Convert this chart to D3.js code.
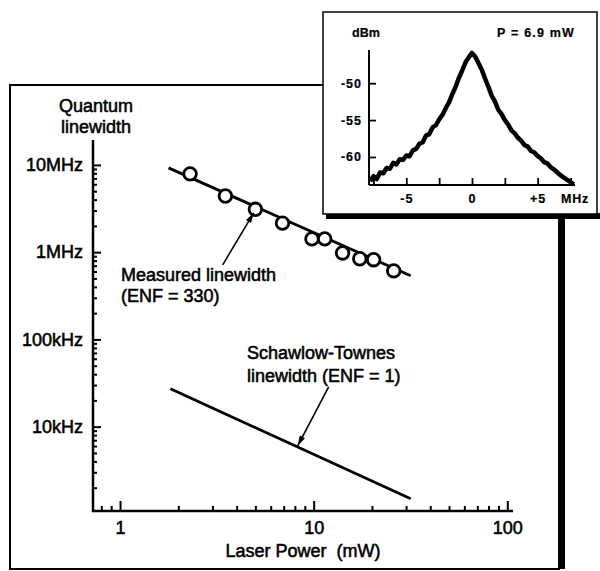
<!DOCTYPE html>
<html>
<head>
<meta charset="utf-8">
<script src="https://d3js.org/d3.v7.min.js"></script>
<style>
  body { margin: 0; background: #fff; }
  text { font-family: "Liberation Sans", Arial, Helvetica, sans-serif; fill: #000; stroke: #000; stroke-width: 0.55px; }
  .inset text { font-weight: bold; stroke-width: 0.2px; }
</style>
</head>
<body>
<div id="chart"></div>
<script>
// SVG container
var svgWidth = 600;
var svgHeight = 571;

// ----------------- Data -----------------
// Measured quantum linewidth (laser power in mW, linewidth in Hz)
var measuredPower = [2.3, 3.5, 5.0, 6.9, 9.8, 11.4, 14.1, 17.3, 20.4, 25.9];
var measuredWidth = [7.9e6, 4.4e6, 3.1e6, 2.15e6, 1.42e6, 1.42e6, 0.98e6, 0.84e6, 0.82e6, 0.61e6];
// Fitted line through measured points (end points)
var fitPower = [1.78, 31.7];
var fitWidth = [9.25e6, 0.536e6];
// Schawlow-Townes linewidth (end points)
var stPower = [1.82, 31.7];
var stWidth = [27.2e3, 1.49e3];

// Main axis ticks
var yMajorTicks = [1e4, 1e5, 1e6, 1e7];
var yTickLabels = ["10kHz", "100kHz", "1MHz", "10MHz"];
var xMajorTicks = [1, 10, 100];
var xTickLabels = ["1", "10", "100"];

// Inset spectrum at P = 6.9 mW
var specFreq = [-7.75,-7.5,-7.25,-7,-6.75,-6.5,-6.25,-6,-5.75,-5.5,-5.25,-5,-4.75,-4.5,-4.25,-4,
  -3.75,-3.5,-3.25,-3,-2.75,-2.5,-2.25,-2,-1.75,-1.5,-1.25,-1,-0.75,-0.5,-0.25,0,
  0.25,0.5,0.75,1,1.25,1.5,1.75,2,2.25,2.5,2.75,3,3.25,3.5,3.75,4,
  4.25,4.5,4.75,5,5.25,5.5,5.75,6,6.25,6.5,6.75,7,7.25,7.5,7.75];
var specPower = [-63.3,-62.6,-63.0,-62.1,-62.2,-61.5,-61.6,-60.8,-61.0,-60.3,-60.4,-59.8,-59.9,-59.1,-58.9,-58.2,
  -58.0,-57.1,-56.9,-56.0,-55.7,-54.9,-54.3,-53.4,-52.6,-51.5,-50.5,-49.3,-48.3,-47.2,-46.5,-45.9,
  -46.4,-47.3,-48.2,-49.4,-50.5,-51.7,-52.5,-53.6,-54.2,-55.0,-55.6,-56.4,-56.8,-57.4,-57.8,-58.4,
  -58.6,-59.2,-59.4,-59.9,-60.2,-60.7,-60.9,-61.4,-61.7,-62.1,-62.5,-62.8,-63.1,-63.4,-63.7];
var insetYTicks = [-60, -55, -50];
var insetYLabels = ["-60", "-55", "-50"];
var insetXMajor = [-5, 0, 5];
var insetXLabels = ["-5", "0", "+5"];
var insetXMinor = [-7.5, -2.5, 2.5, 7.5];

var svg = d3.select("#chart").append("svg")
            .attr("width", svgWidth)
            .attr("height", svgHeight);

// arrow marker
svg.append("defs").append("marker")
   .attr("id", "arrow")
   .attr("viewBox", "0 0 10 6")
   .attr("refX", 10)
   .attr("refY", 3)
   .attr("markerWidth", 11)
   .attr("markerHeight", 6)
   .attr("markerUnits", "userSpaceOnUse")
   .attr("orient", "auto")
   .append("path")
   .attr("d", "M0,0 L10,3 L0,6 Z")
   .attr("fill", "#000");

// ----------------- Main panel frame -----------------
svg.append("rect")
   .attr("x", 10).attr("y", 85)
   .attr("width", 549).attr("height", 484)
   .attr("fill", "#fff").attr("stroke", "#000").attr("stroke-width", 2);
// shadow on right side
svg.append("rect")
   .attr("x", 559).attr("y", 212)
   .attr("width", 6).attr("height", 357)
   .attr("fill", "#000");

// Scales
var xScale = d3.scaleLog().domain([0.725, 107]).range([93, 513]);
var yScale = d3.scaleLog().domain([1.08e3, 1.93e7]).range([511, 140]);

// minor ticks come from the scale's own tick generator
var xMinor = xScale.ticks().filter(d => xMajorTicks.indexOf(d) < 0);
var yMinor = yScale.ticks().filter(d => yMajorTicks.indexOf(d) < 0);

var axisStyle = function(g) {
  g.selectAll("line").attr("stroke", "#000").attr("stroke-width", 2);
  g.selectAll("text").attr("font-size", "18px").attr("fill", "#000")
   .attr("font-family", "Liberation Sans, Arial, sans-serif");
};

// Y axis
svg.append("g")
   .attr("transform", "translate(93,0)")
   .call(d3.axisLeft(yScale).tickValues(yMinor).tickSizeInner(-4).tickSizeOuter(0).tickFormat(""))
   .call(g => g.select(".domain").remove())
   .call(axisStyle);
svg.append("g")
   .attr("transform", "translate(93,0)")
   .call(d3.axisLeft(yScale).tickValues(yMajorTicks).tickSizeInner(-8).tickSizeOuter(0)
          .tickPadding(10)
          .tickFormat((d, i) => yTickLabels[i]))
   .call(g => g.select(".domain").remove())
   .call(axisStyle);
svg.append("line")
   .attr("x1", 93).attr("x2", 93)
   .attr("y1", yScale.range()[1]).attr("y2", yScale.range()[0] + 1)
   .attr("stroke", "#000").attr("stroke-width", 2.5);

// X axis
svg.append("g")
   .attr("transform", "translate(0,511)")
   .call(d3.axisBottom(xScale).tickValues(xMinor).tickSizeInner(-5).tickSizeOuter(0).tickFormat(""))
   .call(g => g.select(".domain").remove())
   .call(axisStyle);
svg.append("g")
   .attr("transform", "translate(0,511)")
   .call(d3.axisBottom(xScale).tickValues(xMajorTicks).tickSizeInner(-10).tickSizeOuter(0)
          .tickPadding(10)
          .tickFormat((d, i) => xTickLabels[i]))
   .call(g => g.select(".domain").remove())
   .call(axisStyle);
svg.append("line")
   .attr("x1", xScale.range()[0] - 1).attr("x2", xScale.range()[1])
   .attr("y1", 511).attr("y2", 511)
   .attr("stroke", "#000").attr("stroke-width", 2.5);

// Axis titles
svg.append("text").attr("x", 96).attr("y", 112).attr("text-anchor", "middle")
   .attr("font-size", "18px").text("Quantum");
svg.append("text").attr("x", 96).attr("y", 133).attr("text-anchor", "middle")
   .attr("font-size", "18px").text("linewidth");
svg.append("text").attr("x", 303).attr("y", 557).attr("text-anchor", "middle")
   .attr("font-size", "18px").attr("xml:space", "preserve").text("Laser Power  (mW)");

// ----------------- Lines and markers -----------------
var line = d3.line().x(d => xScale(d[0])).y(d => yScale(d[1]));

svg.append("path")
   .datum(d3.zip(fitPower, fitWidth))
   .attr("d", line)
   .attr("fill", "none").attr("stroke", "#000").attr("stroke-width", 2.8);

svg.append("path")
   .datum(d3.zip(stPower, stWidth))
   .attr("d", line)
   .attr("fill", "none").attr("stroke", "#000").attr("stroke-width", 2.8);

svg.selectAll(".pt")
   .data(d3.zip(measuredPower, measuredWidth))
   .enter().append("circle")
   .attr("class", "pt")
   .attr("cx", d => xScale(d[0]))
   .attr("cy", d => yScale(d[1]))
   .attr("r", 6.3)
   .attr("fill", "#fff").attr("stroke", "#000").attr("stroke-width", 2.8);

// Annotations
svg.append("line")
   .attr("x1", xScale(3.39)).attr("y1", yScale(7.16e5))
   .attr("x2", xScale(4.9)).attr("y2", yScale(2.82e6))
   .attr("stroke", "#000").attr("stroke-width", 1.6)
   .attr("marker-end", "url(#arrow)");
svg.append("text").attr("x", 121).attr("y", 281).attr("font-size", "18px").text("Measured linewidth");
svg.append("text").attr("x", 121).attr("y", 302).attr("font-size", "18px").text("(ENF = 330)");

svg.append("line")
   .attr("x1", xScale(11.95)).attr("y1", yScale(2.86e4))
   .attr("x2", xScale(8.27)).attr("y2", yScale(6.04e3))
   .attr("stroke", "#000").attr("stroke-width", 1.6)
   .attr("marker-end", "url(#arrow)");
svg.append("text").attr("x", 247).attr("y", 359).attr("font-size", "18px").text("Schawlow-Townes");
svg.append("text").attr("x", 247).attr("y", 382).attr("font-size", "18px").text("linewidth (ENF = 1)");

// ----------------- Inset -----------------
var inset = svg.append("g").attr("class", "inset");
inset.append("rect")
   .attr("x", 326).attr("y", 213)
   .attr("width", 274).attr("height", 6)
   .attr("fill", "#000");
inset.append("rect")
   .attr("x", 323).attr("y", 12)
   .attr("width", 274).attr("height", 202)
   .attr("fill", "#fff").attr("stroke", "#000").attr("stroke-width", 1.5);

var ixScale = d3.scaleLinear().domain([-7.84, 7.84]).range([369, 575]);
var iyScale = d3.scaleLinear().domain([-63.8, -45.5]).range([185, 50]);

var insetStyle = function(g) {
  g.selectAll("line").attr("stroke", "#000").attr("stroke-width", 1.8);
  g.selectAll("text").attr("font-size", "12.5px").attr("fill", "#000")
   .attr("font-family", "Liberation Sans, Arial, sans-serif").attr("letter-spacing", "1px");
};

inset.append("g")
   .attr("transform", "translate(369,0)")
   .call(d3.axisLeft(iyScale).tickValues(insetYTicks).tickSizeInner(-7).tickSizeOuter(0)
          .tickPadding(7).tickFormat((d, i) => insetYLabels[i]))
   .call(g => g.select(".domain").remove())
   .call(insetStyle);
inset.append("g")
   .attr("transform", "translate(0,185)")
   .call(d3.axisBottom(ixScale).tickValues(insetXMinor).tickSizeInner(-7).tickSizeOuter(0).tickFormat(""))
   .call(g => g.select(".domain").remove())
   .call(insetStyle);
inset.append("g")
   .attr("transform", "translate(0,185)")
   .call(d3.axisBottom(ixScale).tickValues(insetXMajor).tickSizeInner(-7).tickSizeOuter(0)
          .tickPadding(9).tickFormat((d, i) => insetXLabels[i]))
   .call(g => g.select(".domain").remove())
   .call(insetStyle);

inset.append("line")
   .attr("x1", 369).attr("x2", 369)
   .attr("y1", iyScale.range()[1]).attr("y2", iyScale.range()[0])
   .attr("stroke", "#000").attr("stroke-width", 2);
inset.append("line")
   .attr("x1", ixScale.range()[0]).attr("x2", ixScale.range()[1])
   .attr("y1", 185).attr("y2", 185)
   .attr("stroke", "#000").attr("stroke-width", 2);

inset.append("path")
   .datum(d3.zip(specFreq, specPower))
   .attr("d", d3.line().x(d => ixScale(d[0])).y(d => iyScale(d[1])))
   .attr("fill", "none").attr("stroke", "#000")
   .attr("stroke-width", 4.5).attr("stroke-linejoin", "round");

inset.append("text").attr("x", 352).attr("y", 37).attr("font-size", "12.5px").text("dBm");
inset.append("text").attr("x", 497).attr("y", 37).attr("font-size", "12.5px")
   .attr("letter-spacing", "1.2px").text("P = 6.9 mW");
inset.append("text").attr("x", 561).attr("y", 203).attr("font-size", "12.5px")
   .attr("letter-spacing", "0.8px").text("MHz");
</script>
</body>
</html>
